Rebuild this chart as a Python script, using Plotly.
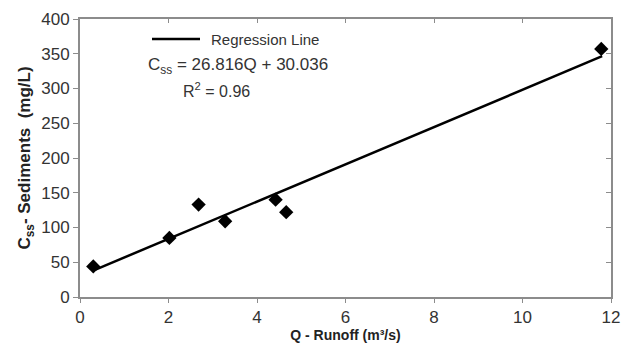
import plotly.graph_objects as go

# Data
runoff_q = [0.30, 2.02, 2.68, 3.28, 4.42, 4.66, 11.78]
sediment_css = [44, 85, 133, 109, 140, 122, 357]
slope = 26.816
intercept = 30.036
r_squared = 0.96
line_q = [0.35, 11.8]
x_ticks = [0, 2, 4, 6, 8, 10, 12]
y_ticks = [0, 50, 100, 150, 200, 250, 300, 350, 400]

line_css = [slope * q + intercept for q in line_q]

FONT = "Liberation Sans, Arial, sans-serif"
AXC = "#8c8c8c"
TXT = "#333333"

fig = go.Figure()
fig.add_trace(go.Scatter(
    x=line_q, y=line_css, mode="lines",
    line=dict(color="black", width=2.5),
    name="Regression Line", showlegend=False))
fig.add_trace(go.Scatter(
    x=runoff_q, y=sediment_css, mode="markers",
    marker=dict(symbol="diamond", size=11, color="black"),
    showlegend=False))
# invisible trace to anchor mirrored axes
fig.add_trace(go.Scatter(x=[0], y=[0], xaxis="x2", yaxis="y2",
                         mode="markers", marker=dict(opacity=0),
                         showlegend=False, hoverinfo="skip"))

fig.update_layout(
    width=627, height=344,
    margin=dict(l=80, r=16, t=19, b=47),
    paper_bgcolor="white", plot_bgcolor="white",
    font=dict(family=FONT, color=TXT),
    xaxis=dict(range=[0, 12], tickvals=x_ticks, ticks="outside", ticklen=4,
               tickcolor=AXC, showline=True, linecolor=AXC, linewidth=2,
               showgrid=False, zeroline=False, automargin=False,
               tickfont=dict(size=17, color=TXT),
               title=dict(text="<b>Q - Runoff (m³/s)</b>",
                          font=dict(size=14, color="#222"),
                          standoff=0)),
    yaxis=dict(range=[0, 400], tickvals=y_ticks, ticks="outside", ticklen=5,
               tickcolor=AXC, showline=True, linecolor=AXC, linewidth=2,
               showgrid=False, zeroline=False, automargin=False,
               tickfont=dict(size=17, color=TXT),
               title=dict(text="<b>C<sub>ss</sub>- Sediments  (mg/L)</b>",
                          font=dict(size=17, color="#222"), standoff=6)),
    xaxis2=dict(range=[0, 12], tickvals=x_ticks, overlaying="x", side="top",
                ticks="inside", ticklen=4, tickcolor=AXC, showline=True,
                linecolor=AXC, linewidth=2, showticklabels=False,
                showgrid=False, zeroline=False, anchor="y2", automargin=False),
    yaxis2=dict(range=[0, 400], tickvals=y_ticks, overlaying="y", side="right",
                ticks="inside", ticklen=5, tickcolor=AXC, showline=True,
                linecolor=AXC, linewidth=2, showticklabels=False,
                showgrid=False, zeroline=False, anchor="x2", automargin=False),
    showlegend=False,
)

# legend (manual)
fig.add_shape(type="line", xref="paper", yref="paper",
              x0=(152 - 80) / 531, x1=(200 - 80) / 531,
              y0=(297 - 39) / 278, y1=(297 - 39) / 278,
              line=dict(color="black", width=2.5))
fig.add_annotation(
    x=(209 - 80) / 531, y=(297 - 39) / 278, xref="paper", yref="paper",
    showarrow=False, xanchor="left", yanchor="middle",
    text="Regression Line", font=dict(size=15, color=TXT))

fig.add_annotation(
    x=(238 - 80) / 531, y=(297 - 66) / 278, xref="paper", yref="paper",
    showarrow=False, xanchor="center", yanchor="middle",
    text=f"C<sub>ss</sub> = {slope}Q + {intercept}",
    font=dict(size=17, color=TXT))
fig.add_annotation(
    x=(216 - 80) / 531, y=(297 - 90) / 278, xref="paper", yref="paper",
    showarrow=False, xanchor="center", yanchor="middle",
    text=f"R<sup>2</sup> = {r_squared}",
    font=dict(size=16, color=TXT))

fig.write_html("out.html",
               config={"displayModeBar": False},
               post_script="document.body.style.margin='0';document.body.style.overflow='hidden';")
